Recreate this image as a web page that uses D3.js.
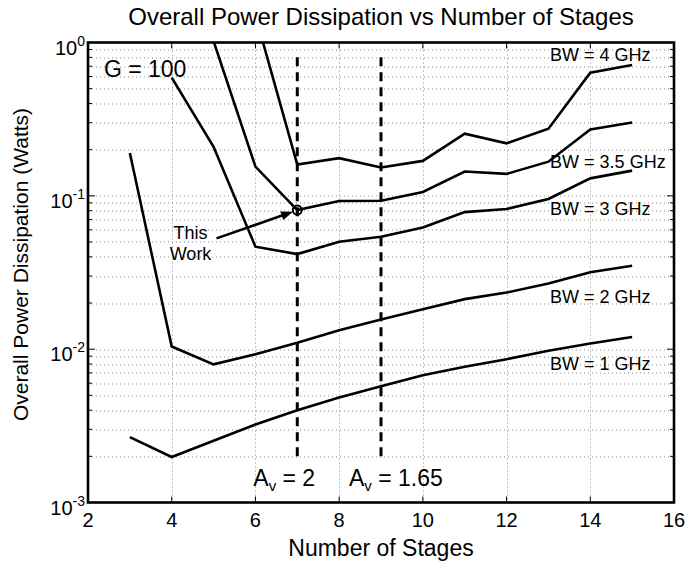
<!DOCTYPE html>
<html>
<head>
<meta charset="utf-8">
<script src="https://cdn.jsdelivr.net/npm/d3@7"></script>
<style>
  body { margin: 0; background: #fff; }
  text { font-family: "Liberation Sans", Arial, Helvetica, sans-serif; fill: #000; }
</style>
</head>
<body>
<div id="chart"></div>
<script>
// data (Watts vs number of stages)
var xTicks = [2, 4, 6, 8, 10, 12, 14, 16];
var yTicks = [1e-3, 1e-2, 1e-1, 1];
var yTickExp = ["-3", "-2", "-1", "0"];

var stagesBw1 = [3, 4, 5, 6, 7, 8, 9, 10, 11, 12, 13, 14, 15];
var powerBw1 = [0.00267, 0.00198, 0.00253, 0.00323, 0.00399, 0.00484, 0.00574, 0.00677, 0.00767, 0.0086, 0.00977, 0.0109, 0.0120];

var stagesBw2 = [3, 4, 5, 6, 7, 8, 9, 10, 11, 12, 13, 14, 15];
var powerBw2 = [0.19, 0.0104, 0.00796, 0.00925, 0.0110, 0.0133, 0.0156, 0.0182, 0.0212, 0.0234, 0.0268, 0.0317, 0.035];

var stagesBw3 = [4, 5, 6, 7, 8, 9, 10, 11, 12, 13, 14, 15];
var powerBw3 = [0.59, 0.209, 0.0466, 0.0417, 0.0502, 0.0541, 0.0622, 0.0783, 0.082, 0.0953, 0.130, 0.146];

var stagesBw35 = [5, 6, 7, 8, 9, 10, 11, 12, 13, 14, 15];
var powerBw35 = [1.02, 0.155, 0.0808, 0.0925, 0.0929, 0.106, 0.144, 0.139, 0.167, 0.271, 0.301];

var stagesBw4 = [6, 7, 8, 9, 10, 11, 12, 13, 14, 15];
var powerBw4 = [1.5, 0.160, 0.176, 0.153, 0.169, 0.254, 0.220, 0.274, 0.635, 0.713];

var seriesLabels = ["BW = 1 GHz", "BW = 2 GHz", "BW = 3 GHz", "BW = 3.5 GHz", "BW = 4 GHz"];
var labelValues = [0.0073, 0.020, 0.075, 0.152, 0.757];

var avStages = [7, 9];
var avLabels = ["2", "1.65"];
var avRange = [0.002, 0.8];

var thisWork = {stage: 7, power: 0.0808};

var margin = {top: 42.5, right: 26, bottom: 60.5, left: 88};
var width = 700 - margin.left - margin.right,
    height = 563 - margin.top - margin.bottom;

var svg = d3.select("#chart").append("svg")
  .attr("width", 700).attr("height", 563);

var chart = svg.append("g")
  .attr("transform", "translate(" + margin.left + "," + margin.top + ")");

var x = d3.scaleLinear().domain([2, 16]).range([0, width]);
var y = d3.scaleLog().domain([1e-3, 1]).range([height, 0]);

chart.append("defs").append("clipPath").attr("id", "clip")
  .append("rect").attr("width", width).attr("height", height);

// minor log values for grid
var minorVals = [];
[1e-3, 1e-2, 1e-1].forEach(function(d) {
  for (var k = 1; k <= 9; k++) minorVals.push(d * k);
});
minorVals = minorVals.filter(function(v) { return v > 1e-3; });

var grid = chart.append("g")
  .attr("stroke", "#8a8a8a").attr("stroke-width", 1)
  .attr("stroke-dasharray", "1,3");

grid.selectAll("line.h").data(minorVals).enter().append("line")
  .attr("x1", 0).attr("x2", width)
  .attr("y1", function(d) { return Math.round(y(d)) + 0.5; })
  .attr("y2", function(d) { return Math.round(y(d)) + 0.5; });

grid.selectAll("line.v").data(xTicks.slice(1, -1)).enter().append("line")
  .attr("y1", 0).attr("y2", height)
  .attr("x1", function(d) { return Math.round(x(d)) + 0.5; })
  .attr("x2", function(d) { return Math.round(x(d)) + 0.5; });

// ticks inside the frame
var tk = chart.append("g").attr("stroke", "#000").attr("stroke-width", 1);
xTicks.slice(1, -1).forEach(function(d) {
  tk.append("line").attr("x1", x(d)).attr("x2", x(d)).attr("y1", height).attr("y2", height - 6);
  tk.append("line").attr("x1", x(d)).attr("x2", x(d)).attr("y1", 0).attr("y2", 6);
});
minorVals.forEach(function(d) {
  var len = (Math.abs(Math.log10(d) - Math.round(Math.log10(d))) < 1e-9) ? 7 : 4;
  tk.append("line").attr("x1", 0).attr("x2", len).attr("y1", y(d)).attr("y2", y(d));
  tk.append("line").attr("x1", width).attr("x2", width - len).attr("y1", y(d)).attr("y2", y(d));
});

// curves
var line = d3.line()
  .x(function(d) { return x(d[0]); })
  .y(function(d) { return y(d[1]); });

var series = [
  d3.zip(stagesBw1, powerBw1),
  d3.zip(stagesBw2, powerBw2),
  d3.zip(stagesBw3, powerBw3),
  d3.zip(stagesBw35, powerBw35),
  d3.zip(stagesBw4, powerBw4)
];

chart.append("g").attr("clip-path", "url(#clip)")
  .selectAll("path").data(series).enter().append("path")
  .attr("d", line)
  .attr("fill", "none")
  .attr("stroke", "#000")
  .attr("stroke-width", 2.6)
  .attr("stroke-linejoin", "miter");

// dashed Av lines
chart.selectAll("line.av").data(avStages).enter().append("line")
  .attr("x1", function(d) { return x(d); })
  .attr("x2", function(d) { return x(d); })
  .attr("y1", y(avRange[1]))
  .attr("y2", y(avRange[0]))
  .attr("stroke", "#000").attr("stroke-width", 3)
  .attr("stroke-dasharray", "9,6");

// this work marker
chart.append("circle")
  .attr("cx", x(thisWork.stage)).attr("cy", y(thisWork.power))
  .attr("r", 4.5).attr("fill", "none")
  .attr("stroke", "#000").attr("stroke-width", 2);

// arrow
var ax1 = x(5.07), ay1 = y(0.0528), ax2 = x(6.9), ay2 = y(0.0788);
var ang = Math.atan2(ay2 - ay1, ax2 - ax1);
chart.append("line")
  .attr("x1", ax1).attr("y1", ay1)
  .attr("x2", ax2 - 8 * Math.cos(ang)).attr("y2", ay2 - 8 * Math.sin(ang))
  .attr("stroke", "#000").attr("stroke-width", 2.6);
var hl = 12, hw = 4.5;
chart.append("path")
  .attr("d", "M" + ax2 + "," + ay2 +
    "L" + (ax2 - hl * Math.cos(ang) + hw * Math.sin(ang)) + "," + (ay2 - hl * Math.sin(ang) - hw * Math.cos(ang)) +
    "L" + (ax2 - hl * Math.cos(ang) - hw * Math.sin(ang)) + "," + (ay2 - hl * Math.sin(ang) + hw * Math.cos(ang)) + "Z")
  .attr("fill", "#000");

chart.append("text").attr("x", x(4.45)).attr("y", y(0.0522))
  .attr("text-anchor", "middle").attr("font-size", "18px").text("This");
chart.append("text").attr("x", x(4.45)).attr("y", y(0.0382))
  .attr("text-anchor", "middle").attr("font-size", "18px").text("Work");

chart.append("text").attr("x", x(2.38)).attr("y", y(0.596))
  .attr("font-size", "23px").text("G = 100");

// BW labels
chart.selectAll("text.bw").data(seriesLabels).enter().append("text")
  .attr("x", x(13.04))
  .attr("y", function(d, i) { return y(labelValues[i]); })
  .attr("font-size", "18px")
  .text(function(d) { return d; });

// Av labels
avLabels.forEach(function(lbl, i) {
  var t = chart.append("text")
    .attr("x", x(avStages[i]) - 44 + (i === 1 ? 12 : 0))
    .attr("y", height - 17)
    .attr("font-size", "23px");
  t.append("tspan").text("A");
  t.append("tspan").attr("font-size", "15px").attr("dy", 5).text("v");
  t.append("tspan").attr("dy", -5).text(" = " + lbl);
});

// frame
chart.append("rect").attr("width", width).attr("height", height)
  .attr("fill", "none").attr("stroke", "#000").attr("stroke-width", 2.6);

// tick labels
chart.selectAll("text.xt").data(xTicks).enter().append("text")
  .attr("x", function(d) { return x(d); })
  .attr("y", height + 24)
  .attr("text-anchor", "middle")
  .attr("font-size", "20px")
  .text(function(d) { return d; });

yTicks.forEach(function(d, i) {
  var t = chart.append("text")
    .attr("x", -3).attr("y", y(d) + 12)
    .attr("text-anchor", "end")
    .attr("font-size", "20px");
  t.append("tspan").text("10");
  t.append("tspan").attr("dy", -9).attr("font-size", "14px").text(yTickExp[i]);
});

// titles
svg.append("text").attr("x", margin.left + width / 2).attr("y", 25)
  .attr("text-anchor", "middle").attr("font-size", "24px")
  .text("Overall Power Dissipation vs Number of Stages");

svg.append("text").attr("x", margin.left + width / 2).attr("y", 556)
  .attr("text-anchor", "middle").attr("font-size", "23px")
  .text("Number of Stages");

svg.append("text")
  .attr("transform", "translate(28,264.5) rotate(-90)")
  .attr("text-anchor", "middle").attr("font-size", "21px")
  .text("Overall Power Dissipation (Watts)");
</script>
</body>
</html>
